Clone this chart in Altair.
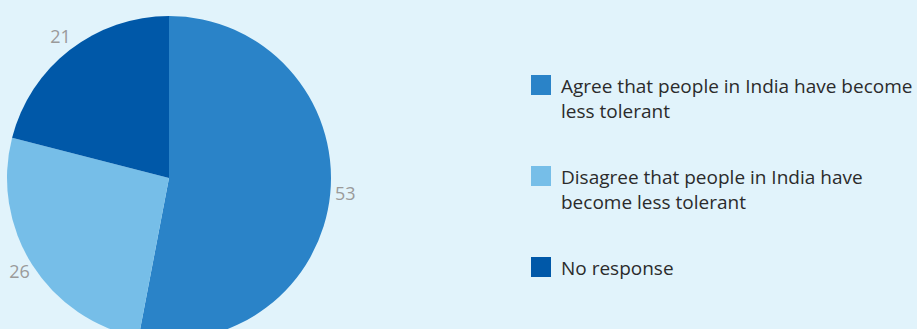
import altair as alt
import pandas as pd

categories = [
    "Agree that people in India have become|less tolerant",
    "Disagree that people in India have|become less tolerant",
    "No response",
]
values = [53, 26, 21]
order = [1, 2, 3]
colors = ["#2a83c8", "#76bee8", "#0058a8"]

df = pd.DataFrame({"cat": categories, "value": values, "order": order})

color_scale = alt.Scale(domain=categories, range=colors)

base = alt.Chart(df).encode(
    theta=alt.Theta("value:Q", stack=True),
    order=alt.Order("order:Q"),
    x=alt.value(169),
    y=alt.value(178),
)

pie = base.mark_arc(outerRadius=162).encode(
    color=alt.Color("cat:N", scale=color_scale, legend=None)
)

labels = base.mark_text(radius=177, font="Open Sans", fontSize=18, color="#9a9a9a").encode(
    text=alt.Text("value:Q")
)

leg_y = alt.Y(
    "cat:N",
    sort=categories,
    scale=alt.Scale(type="point", range=[85, 267], padding=0),
    axis=None,
)

leg_sym = alt.Chart(df).mark_square(size=400, opacity=1).encode(
    x=alt.value(541),
    y=leg_y,
    color=alt.Color("cat:N", scale=color_scale, legend=None),
)

leg_txt = (
    alt.Chart(df)
    .transform_calculate(lines="split(datum.cat, '|')")
    .mark_text(
        align="left",
        baseline="alphabetic",
        dy=8,
        lineHeight=25,
        font="Open Sans",
        fontSize=19,
        color="#2b2b2b",
    )
    .encode(x=alt.value(561), y=leg_y, text=alt.Text("lines:N"))
)

chart = (
    alt.layer(pie, labels, leg_sym, leg_txt)
    .properties(
        width=917,
        height=329,
        padding=0,
        autosize=alt.AutoSizeParams(type="none"),
        background="#e1f3fb",
    )
    .configure_view(stroke=None)
)

chart.save("out.html", embed_options={"renderer": "svg", "actions": False})
